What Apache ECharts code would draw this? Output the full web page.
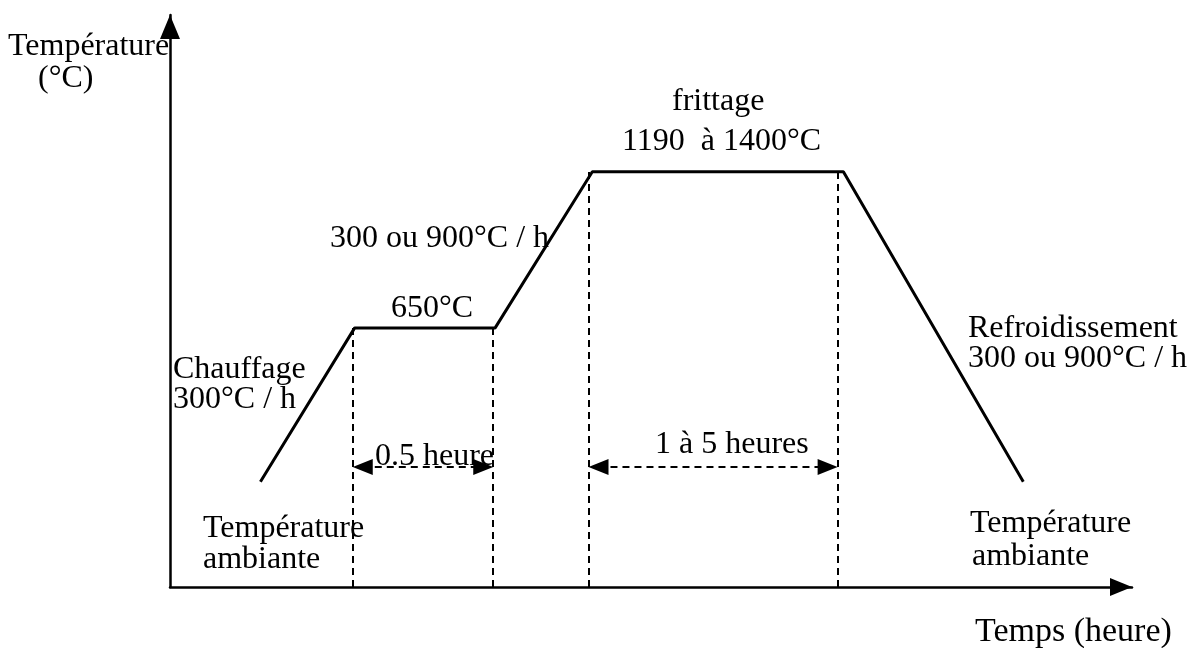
<!DOCTYPE html>
<html><head><meta charset="utf-8">
<script src="https://cdn.jsdelivr.net/npm/echarts@6/dist/echarts.min.js"></script>
<style>html,body{margin:0;padding:0;background:#fff}#c{width:1189px;height:648px}</style>
</head><body><div id="c"></div>
<script>
// Schematic firing profile (arbitrary time units, arbitrary temperature units)
const profileX = [9.4, 19.2, 33.8, 43.9, 70.0, 88.7];
const profileY = [18.4, 45.3, 45.3, 72.6, 72.6, 18.4];
// dashed vertical guides: x position and top value
const guideX = [19.0, 33.6, 43.5, 69.4];
const guideTop = [45.3, 45.3, 72.6, 72.6];
// duration arrows
const spanStart = [19.0, 43.5];
const spanEnd = [33.6, 69.4];
const spanY = 21.0;

const chart = echarts.init(document.getElementById('c'));
const FONT = '"Liberation Serif","Times New Roman",serif';
const FS = 32;
function txt(t, x, cy, fs) {
  const f = fs || FS;
  return {type:'text', left:x, top:cy - Math.round(f*0.46), style:{text:t, font: f + 'px ' + FONT, fill:'#000'}};
}
// arrow head length in data units (20px over a 962px wide, 100-unit axis)
const headX = 10 * 100 / 962;
const guides = guideX.map((x,i)=>[{coord:[x,0]},{coord:[x,guideTop[i]]}]);
const spans = spanStart.map((s,i)=>[{coord:[s+headX,spanY]},{coord:[spanEnd[i]-headX,spanY]}]);
chart.setOption({
  animation:false,
  grid:{left:170,right:57,top:15,bottom:61},
  xAxis:{type:'value',min:0,max:100,splitLine:{show:false},axisTick:{show:false},axisLabel:{show:false},
    axisLine:{show:true,symbol:['none','triangle'],symbolSize:[18,22],symbolOffset:[0,-11],lineStyle:{color:'#000',width:2.5}}},
  yAxis:{type:'value',min:0,max:100,splitLine:{show:false},axisTick:{show:false},axisLabel:{show:false},
    axisLine:{show:true,symbol:['none','triangle'],symbolSize:[20,24],symbolOffset:[0,-12],lineStyle:{color:'#000',width:2.5}}},
  series:[
    {type:'line',data:profileX.map((x,i)=>[x,profileY[i]]),symbol:'none',
      lineStyle:{color:'#000',width:3},z:5,
      markLine:{silent:true,symbol:['none','none'],label:{show:false},
        lineStyle:{color:'#000',type:[7,5],width:2},data:guides}},
    {type:'line',data:[],
      markLine:{silent:true,symbol:['triangle','triangle'],symbolSize:[16,20],label:{show:false},
        lineStyle:{color:'#000',type:[7,5],width:2},data:spans}}
  ],
  graphic:[
    txt('Température',8,46),
    txt('(°C)',38,78),
    txt('frittage',672,101),
    txt('1190  à 1400°C',622,141),
    txt('300 ou 900°C / h',330,238),
    txt('650°C',391,308),
    txt('Refroidissement',968,328),
    txt('300 ou 900°C / h',968,358),
    txt('Chauffage',173,369),
    txt('300°C / h',173,399),
    txt('0.5 heure',375,456),
    txt('1 à 5 heures',655,444),
    txt('Température',203,528),
    txt('ambiante',203,559),
    txt('Température',970,523),
    txt('ambiante',972,556),
    txt('Temps (heure)',975,631,34)
  ]
});
</script></body></html>
